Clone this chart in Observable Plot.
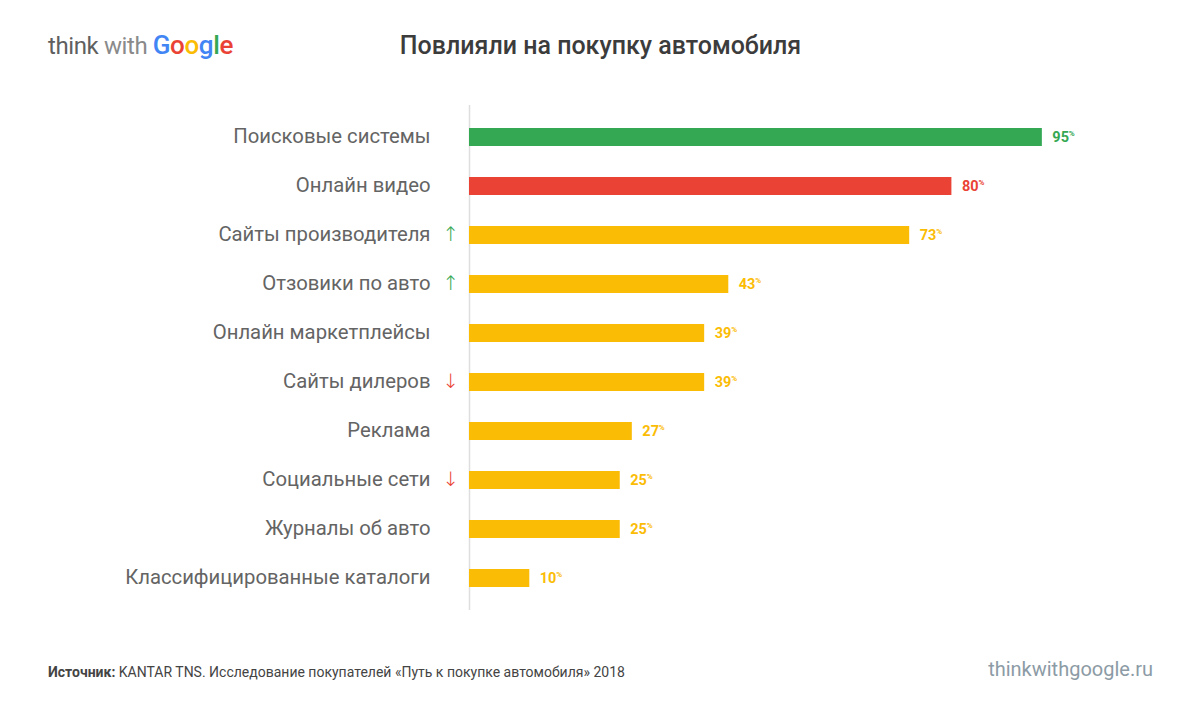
<!DOCTYPE html>
<html><head><meta charset="utf-8">
<script src="https://cdn.jsdelivr.net/npm/d3@7"></script>
<script src="https://cdn.jsdelivr.net/npm/@observablehq/plot@0.6"></script>
<style>
html,body{margin:0;padding:0;background:#fff;}
#wrap{position:relative;width:1201px;height:714px;overflow:hidden;font-family:Roboto,"Noto Sans",sans-serif;}
#logo{position:absolute;left:48px;top:30px;font-size:24px;letter-spacing:-0.4px;white-space:nowrap;}
#title{position:absolute;left:0;width:1201px;top:31px;text-align:center;font-size:25px;font-weight:500;color:#3c3c3c;}
#chart{position:absolute;left:0;top:90px;}
#source{position:absolute;left:48px;top:664px;font-size:14px;color:#444;}
#site{position:absolute;right:48px;top:657px;font-size:20px;color:#8c9ba5;}
</style></head>
<body><div id="wrap">
<div id="logo"><span style="color:#5f5f5f">think</span> <span style="color:#8a8a8a">with</span> <span style="font-weight:500;font-size:26px"><span style="color:#4285F4">G</span><span style="color:#EA4335">o</span><span style="color:#FBBC05">o</span><span style="color:#4285F4">g</span><span style="color:#34A853">l</span><span style="color:#EA4335">e</span></span></div>
<div id="title">Повлияли на покупку автомобиля</div>
<div id="chart"></div>
<div id="source"><b>Источник:</b> KANTAR TNS. Исследование покупателей «Путь к покупке автомобиля» 2018</div>
<div id="site">thinkwithgoogle.ru</div>
</div>
<script>
const categories = ["Поисковые системы","Онлайн видео","Сайты производителя","Отзовики по авто","Онлайн маркетплейсы","Сайты дилеров","Реклама","Социальные сети","Журналы об авто","Классифицированные каталоги"];
const values = [95,80,73,43,39,39,27,25,25,10];
const colors = ["#34A853","#EA4335","#FBBC05","#FBBC05","#FBBC05","#FBBC05","#FBBC05","#FBBC05","#FBBC05","#FBBC05"];
const trends = ["","","up","up","","down","","down","",""];

const data = categories.map((c,i)=>({cat:c, v:values[i], color:colors[i], trend:trends[i]}));
const arrows = data.filter(d=>d.trend);

const chart = Plot.plot({
  width:1201, height:540,
  marginLeft:469, marginRight:129, marginTop:15, marginBottom:20,
  x:{domain:[0,100], axis:null},
  y:{domain:categories, paddingInner:0.634, paddingOuter:0.43, label:null},
  style:{fontFamily:"Roboto, 'Noto Sans', sans-serif", background:"transparent"},
  marks:[
    Plot.ruleX([0],{stroke:"#dedede", strokeWidth:1.5}),
    Plot.barX(data,{y:"cat", x:"v", fill:d=>d.color}),
    Plot.axisY({tickSize:0, tickPadding:39, fontSize:20.3, fill:"#646464", label:null, dy:-1}),
    Plot.text(arrows,{y:"cat", x:0, dx:-19, dy:-1, text:d=>d.trend==="up"?"↑":"↓", fill:d=>d.trend==="up"?"#34A853":"#EA4335", fontSize:20, fontWeight:300, fontFamily:"'DejaVu Sans', sans-serif"}),
    Plot.text(data,{y:"cat", x:"v", dx:10, text:d=>String(d.v), textAnchor:"start", fill:"color", fontSize:14.5, fontWeight:"bold"}),
    Plot.text(data,{y:"cat", x:"v", dx:26.5, dy:-4, text:()=>"%", textAnchor:"start", fill:"color", fontSize:8, fontWeight:"bold"})
  ]
});
document.getElementById("chart").appendChild(chart);
</script>
</body></html>
